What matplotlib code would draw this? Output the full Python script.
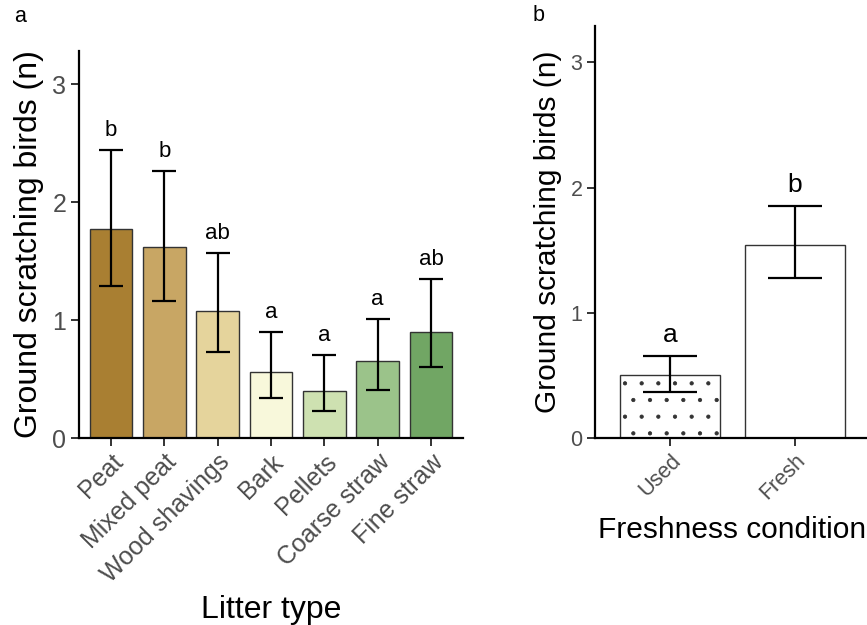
# Ground scratching birds by litter type (a) and freshness (b)
import numpy as np
import matplotlib.pyplot as plt

plt.rcParams['font.family'] = ['Liberation Sans', 'DejaVu Sans']
plt.rcParams['hatch.linewidth'] = 0.6

# panel a data
litter = ["Peat", "Mixed peat", "Wood shavings", "Bark", "Pellets", "Coarse straw", "Fine straw"]
litter_mean = [1.77, 1.62, 1.08, 0.56, 0.40, 0.65, 0.90]
litter_upper = [2.44, 2.26, 1.57, 0.90, 0.70, 1.01, 1.35]
litter_lower = [1.29, 1.16, 0.73, 0.34, 0.23, 0.41, 0.60]
litter_letters = ["b", "b", "ab", "a", "a", "a", "ab"]
litter_colors = ["#A97F32", "#C8A664", "#E5D49C", "#F8F8DB", "#CEE1B1", "#9BC38A", "#71A664"]

# panel b data
fresh = ["Used", "Fresh"]
fresh_mean = [0.50, 1.54]
fresh_upper = [0.655, 1.855]
fresh_lower = [0.37, 1.28]
fresh_letters = ["a", "b"]

fig = plt.figure(figsize=(8.67, 6.25), dpi=100)
axA = fig.add_axes([0.0911, 0.2992, 0.4429, 0.6192])
axB = fig.add_axes([0.6863, 0.2992, 0.3172, 0.6592])

tick_grey = "#4D4D4D"


def style(ax, ymax, ncat, tsize, lsize):
    for s in ["top", "right"]:
        ax.spines[s].set_visible(False)
    for s in ["left", "bottom"]:
        ax.spines[s].set_linewidth(1.6)
        ax.spines[s].set_color("black")
    ax.set_ylim(0, ymax)
    ax.set_xlim(-0.6, ncat - 0.4)
    ax.set_yticks([0, 1, 2, 3])
    ax.tick_params(axis="both", length=5.5, width=1.4, color="#333333",
                   labelcolor=tick_grey, labelsize=tsize)
    ax.tick_params(axis="x", pad=3)
    ax.set_ylabel("Ground scratching birds (n)", fontsize=lsize, labelpad=6)


# ---- panel a ----
x = np.arange(len(litter))
m = np.array(litter_mean)
yerr = [m - np.array(litter_lower), np.array(litter_upper) - m]
axA.bar(x, m, width=0.8, color=litter_colors, edgecolor="#333333", linewidth=1.0, zorder=2)
axA.errorbar(x, m, yerr=yerr, fmt="none", ecolor="black", elinewidth=1.6,
             capsize=8.4, capthick=1.6, zorder=3)
for xi, up, lab in zip(x, litter_upper, litter_letters):
    axA.text(xi, up + 0.12, lab, ha="center", va="baseline", fontsize=16)
style(axA, 3.28, len(litter), 18, 23)
axA.set_xticks(x)
axA.set_xticklabels(litter, rotation=45, ha="right", va="top", rotation_mode="anchor")
axA.set_xlabel("Litter type", fontsize=23, labelpad=6)

# ---- panel b ----
xb = np.arange(len(fresh))
mb = np.array(fresh_mean)
yerrb = [mb - np.array(fresh_lower), np.array(fresh_upper) - mb]
bars = axB.bar(xb, mb, width=0.8, color="white", edgecolor="#333333", linewidth=1.0, zorder=2)
bars[0].set_hatch(".")
axB.errorbar(xb, mb, yerr=yerrb, fmt="none", ecolor="black", elinewidth=1.6,
             capsize=19.7, capthick=1.6, zorder=3)
for xi, up, lab in zip(xb, fresh_upper, fresh_letters):
    axB.text(xi, up + 0.112, lab, ha="center", va="baseline", fontsize=19)
style(axB, 3.29, len(fresh), 15.5, 21.5)
axB.set_xticks(xb)
axB.set_xticklabels(fresh, rotation=45, ha="right", va="top", rotation_mode="anchor")
axB.set_xlabel("Freshness condition", fontsize=21.5, labelpad=9)

fig.text(14 / 867, 1 - 22 / 625, "a", fontsize=15.5, va="baseline")
fig.text(533 / 867, 1 - 21 / 625, "b", fontsize=15.5, va="baseline")

fig.savefig("out.png", dpi=100)
